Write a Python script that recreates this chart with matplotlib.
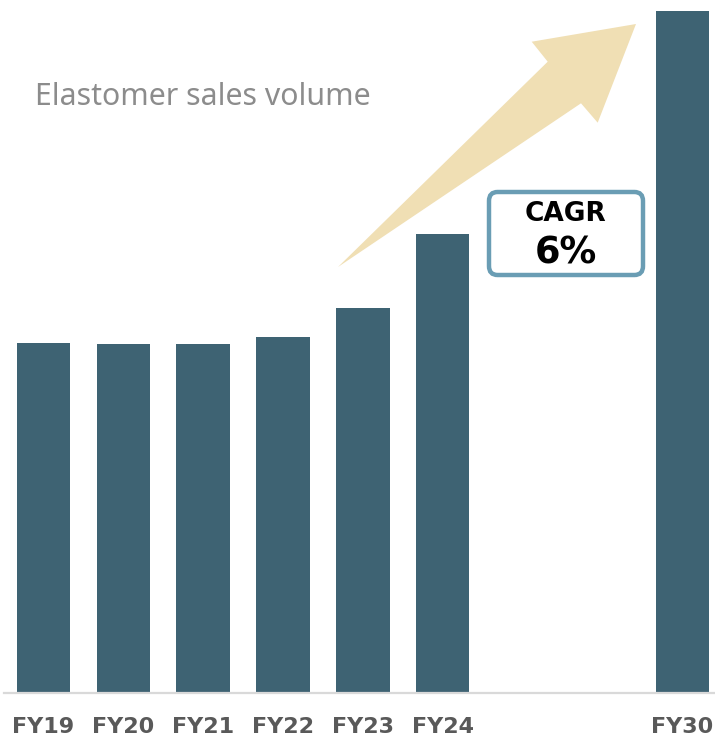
import matplotlib
matplotlib.use("Agg")
import matplotlib.pyplot as plt
from matplotlib.patches import Polygon, FancyBboxPatch

categories = ["FY19", "FY20", "FY21", "FY22", "FY23", "FY24", "FY30"]
positions = [0, 1, 2, 3, 4, 5, 8]
values = [350, 349, 349, 356, 385, 459, 682]

W, H = 715, 739
fig = plt.figure(figsize=(W / 100, H / 100), dpi=100)
ax = fig.add_axes([4 / W, (H - 693) / H, 711 / W, 693 / H])
ax.bar(positions, values, width=0.67, color="#3e6373", zorder=2)
ax.set_xlim(-0.495, 8.41)
ax.set_ylim(0, 693)
for s in ["top", "right", "left"]:
    ax.spines[s].set_visible(False)
ax.spines["bottom"].set_color("#d9d9d9")
ax.spines["bottom"].set_linewidth(1.6)
ax.set_yticks([])
ax.set_xticks(positions)
ax.set_xticklabels(categories, fontsize=16, fontweight="bold", color="#595959",
                   family="DejaVu Sans")
ax.tick_params(axis="x", length=0, pad=17)

def fp(x, y):
    return (x / W, 1 - y / H)

arrow_px = [(338, 267), (547.7, 61.7), (531.7, 41.7), (636, 24),
            (597.7, 122.7), (581, 103.3)]
arrow = Polygon([fp(*p) for p in arrow_px], closed=True, transform=fig.transFigure,
                facecolor="#f0dfb4", edgecolor="none", zorder=1)
fig.patches.append(arrow)

x0, y0 = fp(489, 275)
x1, y1 = fp(643, 192)
box = FancyBboxPatch((x0, y0), x1 - x0, y1 - y0,
                     boxstyle="round,pad=0,rounding_size=0.012",
                     transform=fig.transFigure, facecolor="white",
                     edgecolor="#6a9db4", linewidth=3.2, zorder=3)
fig.patches.append(box)
fig.text(*fp(566, 214), "CAGR", ha="center", va="center", fontsize=19,
         fontweight="bold", color="black", family="DejaVu Sans")
fig.text(*fp(566, 253), "6%", ha="center", va="center", fontsize=26.5,
         fontweight="bold", color="black", family="DejaVu Sans")

fig.text(*fp(35, 97), "Elastomer sales volume", ha="left", va="center",
         fontsize=21.8, color="#8c8c8c", family="Noto Sans")

fig.savefig("out.png", dpi=100)
